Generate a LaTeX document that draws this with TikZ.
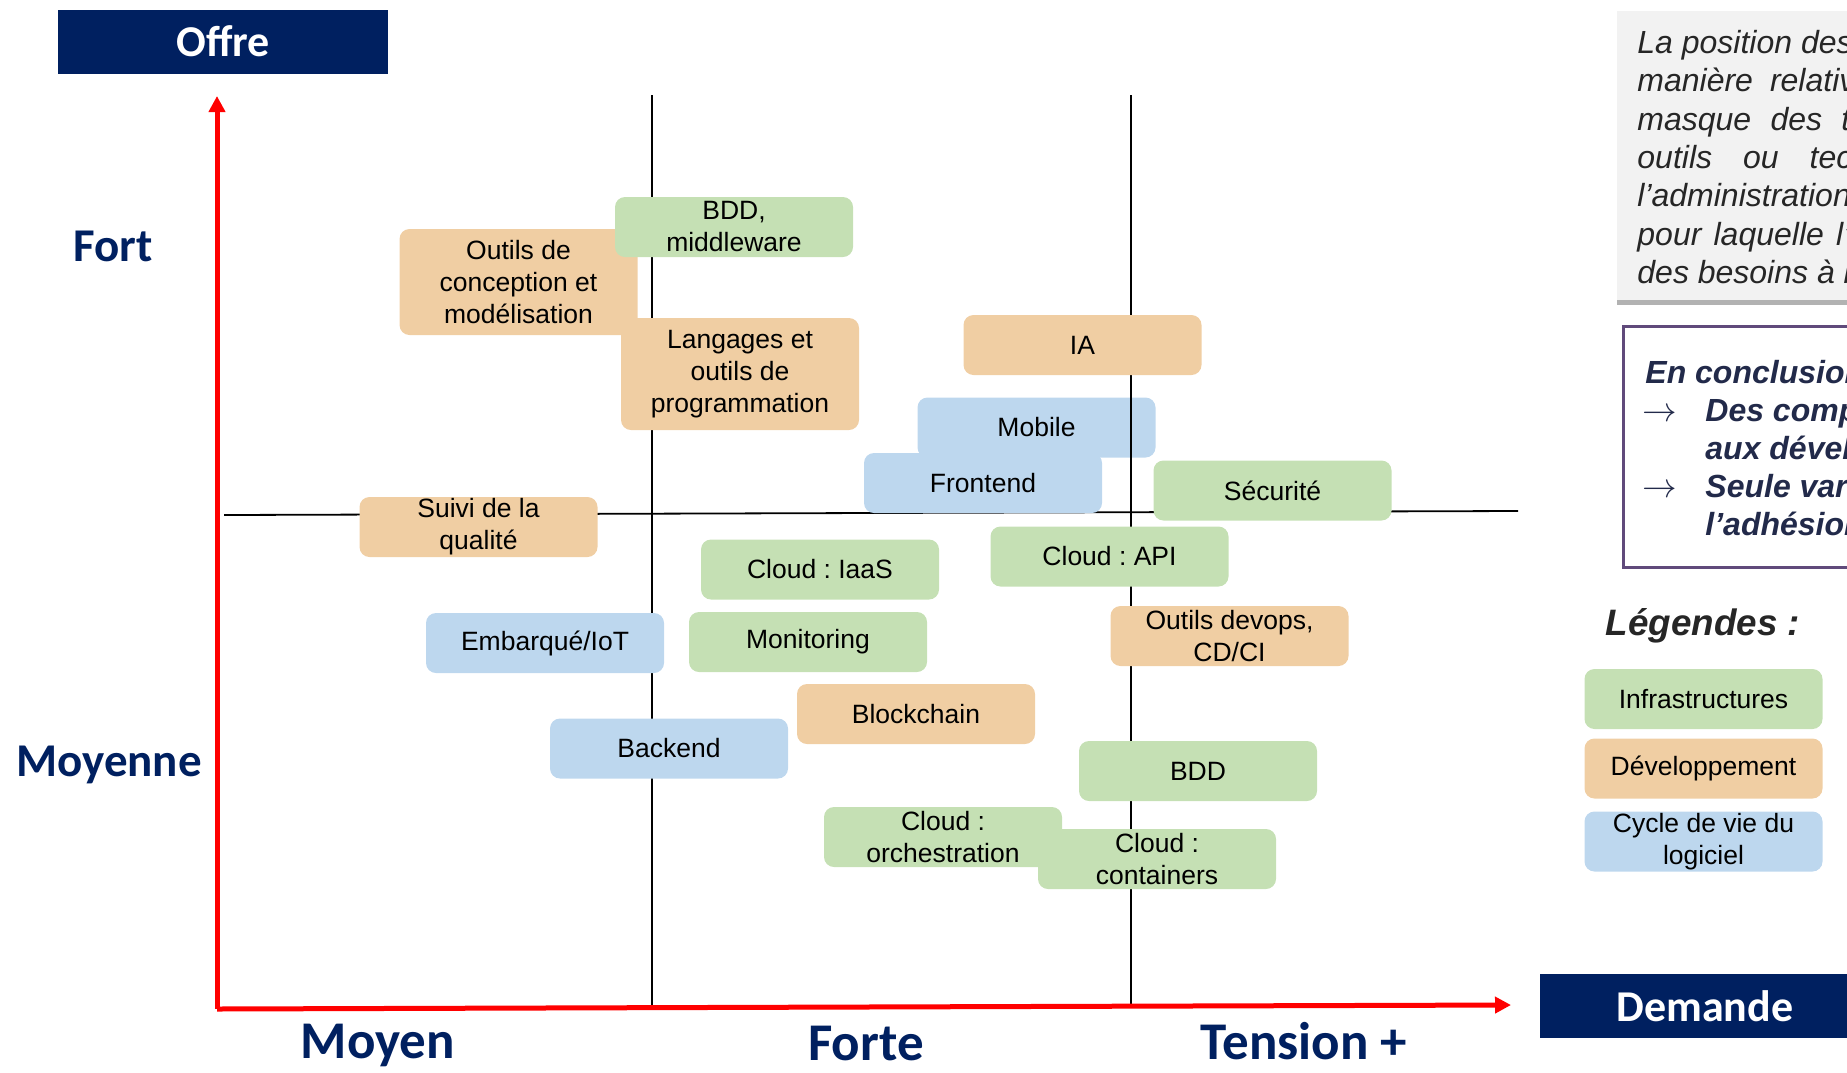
\documentclass[tikz,border=0pt]{standalone}
\usepackage{fontspec}
\newfontfamily\arialfont{Liberation Sans}
\newfontfamily\calfont{Carlito}
\usetikzlibrary{arrows.meta,shadows}
\frenchspacing
\definecolor{navy}{HTML}{002060}
\definecolor{infragreen}{HTML}{C5E0B4}
\definecolor{devorange}{HTML}{F0CEA3}
\definecolor{cycleblue}{HTML}{BDD7EE}
\definecolor{notegray}{HTML}{F2F2F2}
\definecolor{concpurple}{HTML}{604A7B}
\definecolor{concnavy}{HTML}{222A4A}
\definecolor{darktext}{HTML}{262626}
\tikzset{
  skill/.style={rounded corners=5pt, minimum width=119pt, minimum height=30pt, inner sep=0pt,
    align=center, font=\arialfont\fontsize{13.25}{16}\selectfont},
  infra/.style={skill, fill=infragreen},
  dev/.style={skill, fill=devorange},
  cyclebox/.style={skill, fill=cycleblue},
  redaxis/.style={red, line width=2.5pt, -{Triangle[length=8pt,width=8pt]}},
  gridline/.style={black, line width=0.9pt},
  titlebox/.style={fill=navy, text=white, minimum width=165pt, minimum height=32pt,
    font=\calfont\bfseries\fontsize{22}{26}\selectfont},
  offerlabel/.style={anchor=base, text=navy, font=\calfont\bfseries\fontsize{23.5}{28}\selectfont},
  demandlabel/.style={anchor=base, text=navy, inner sep=0pt, font=\calfont\bfseries\fontsize{26.5}{30}\selectfont},
  noteline/.style={anchor=base west, inner sep=0pt, text=darktext,
    font=\arialfont\itshape\fontsize{16}{19}\selectfont},
  concline/.style={anchor=base west, inner sep=0pt, text=concnavy,
    font=\arialfont\bfseries\itshape\fontsize{16}{19}\selectfont},
}
\begin{document}
\begin{tikzpicture}[x=0.5pt,y=-0.5pt]
\clip (0,0) rectangle (1847,1072);
\node[titlebox] (offre) at (223,41.5) {Offre};
\node[titlebox] (demande) at (1705,1006) {Demande};
\fill[notegray, drop shadow={shadow xshift=0pt, shadow yshift=-2.5pt, fill=black, opacity=0.3}]
  (1617,11) rectangle (1880,300);
\draw[concpurple, line width=1.5pt] (1623,326) rectangle (1890,567);
\node[cyclebox] (mobile) at (1036.5,427.5) {Mobile};
\coordinate (origin) at (217,1009);
\coordinate (ytip) at (217,96);
\coordinate (xtip) at (1511,1005);
\coordinate (v1top) at (652,95);
\coordinate (v1bot) at (652,1008);
\coordinate (v2top) at (1131,95);
\coordinate (v2bot) at (1131,1006);
\coordinate (hleft) at (224,515);
\coordinate (hright) at (1518,511);
\draw[gridline] (v1top) -- (v1bot);
\draw[gridline] (v2top) -- (v2bot);
\draw[gridline] (hleft) -- (hright);
\draw[redaxis] (origin) -- (ytip);
\draw[redaxis] (origin) -- (xtip);
\node[dev, minimum height=53pt] (outils) at (518.5,282) {Outils de\\conception et\\modélisation};
\node[infra] (bddmw) at (734,227) {BDD,\\middleware};
\node[dev, minimum height=56pt] (langages) at (740,374) {Langages et\\outils de\\programmation};
\node[dev] (ia) at (1082.5,345) {IA};
\node[cyclebox] (frontend) at (983,483) {Frontend};
\node[infra] (securite) at (1272.5,490.5) {Sécurité};
\node[dev] (suivi) at (478.5,527) {Suivi de la\\qualité};
\node[infra] (cloudapi) at (1109.5,556.5) {Cloud : API};
\node[infra] (iaas) at (820,569.5) {Cloud : IaaS};
\node[cyclebox] (iot) at (545,643) {Embarqué/IoT};
\node[infra] (monitoring) at (808,642) {Monitoring};
\node[dev] (devops) at (1229.5,636) {Outils devops,\\CD/CI};
\node[dev] (blockchain) at (916,714) {Blockchain};
\node[cyclebox] (backend) at (669,748.5) {Backend};
\node[infra] (bdd) at (1198,771) {BDD};
\node[infra] (orchestration) at (943,837) {Cloud :\\orchestration};
\node[infra] (containers) at (1157,859) {Cloud :\\containers};
\node[offerlabel] (fort) at (113,261) {Fort};
\node[offerlabel] (moyenne) at (109,776) {Moyenne};
\node[demandlabel] (moyen) at (378,1058) {Moyen};
\node[demandlabel] (forte) at (866,1060) {Forte};
\node[demandlabel] (tension) at (1304,1059) {Tension +};
\node[noteline] (note1) at (1637,53) {La position des};
\node[noteline] (note2) at (1637,91.5) {\makebox[109pt][s]{manière relativ}};
\node[noteline] (note3) at (1637,130) {\makebox[106.5pt][s]{masque des t}};
\node[noteline] (note4) at (1637,168) {\makebox[107.5pt][s]{outils ou tec}};
\node[noteline] (note5) at (1637,206.5) {l’administration};
\node[noteline] (note6) at (1637,245) {\makebox[106.5pt][s]{pour laquelle l’}};
\node[noteline] (note7) at (1637,283) {des besoins à l};
\node[concline] (conc1) at (1645,383) {En conclusion};
\node[concline] (arrow1) at (1642,421) {\fontsize{17.5}{20}\selectfont$\rightarrow$};
\node[concline] (conc2) at (1705,421) {Des comp};
\node[concline] (conc3) at (1705,459) {aux dével};
\node[concline] (arrow2) at (1642,497) {\fontsize{17.5}{20}\selectfont$\rightarrow$};
\node[concline] (conc4) at (1705,497) {Seule var};
\node[concline] (conc5) at (1705,535) {l’adhésion};
\node[anchor=base, text=darktext, font=\arialfont\bfseries\itshape\fontsize{18.4}{22}\selectfont]
  (legendes) at (1703,635) {Légendes :};
\node[infra] (lginfra) at (1703.5,699) {Infrastructures};
\node[dev] (lgdev) at (1703.5,768.5) {Développement};
\node[cyclebox] (lgcycle) at (1703.5,841.5) {Cycle de vie du\\logiciel};
\end{tikzpicture}
\end{document}
